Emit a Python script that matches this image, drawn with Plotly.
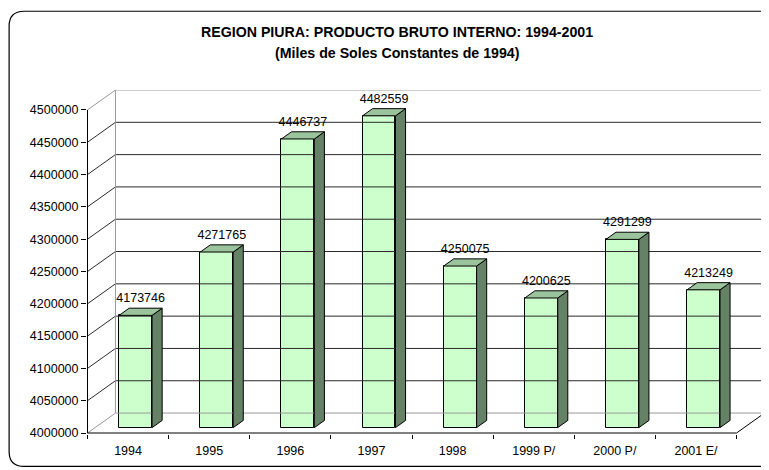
import plotly.graph_objects as go

# ---------------- data ----------------
years = ['1994', '1995', '1996', '1997', '1998', '1999 P/', '2000 P/', '2001 E/']
pbi = [4173746, 4271765, 4446737, 4482559, 4250075, 4200625, 4291299, 4213249]
y_ticks = [4000000, 4050000, 4100000, 4150000, 4200000, 4250000,
           4300000, 4350000, 4400000, 4450000, 4500000]
title1 = 'REGION PIURA: PRODUCTO BRUTO INTERNO: 1994-2001'
title2 = '(Miles de Soles Constantes de 1994)'

# ---------------- geometry / style ----------------
OFF = 8                         # page body margin offset
FW, FH = 769 - OFF, 470 - OFF
cat_px = 81.25                  # pixels per category (front)
ymin, ymax = y_ticks[0], y_ticks[-1]
val_px = 324.0 / (ymax - ymin)  # pixels per value unit
depth_dx_px, depth_dy_px = 28.0, 20.0
pad = 0.5
n = len(years)

axis_x = 87 - OFF
axis_y0 = 433.5 - OFF
plot_left = axis_x - pad
plot_right = axis_x + n * cat_px + depth_dx_px + pad
plot_bottom = axis_y0 + 1.0
plot_top = axis_y0 - (ymax - ymin) * val_px - depth_dy_px
pw = plot_right - plot_left
ph = plot_bottom - plot_top

dxu = depth_dx_px / cat_px
dyu = depth_dy_px / val_px
xr0 = -pad / cat_px
xr1 = n + (depth_dx_px + pad) / cat_px
yr0 = ymin - 1.0 / val_px
yr1 = ymax + dyu

f0 = 0.27
fs = 0.36
bw = 33.0 / cat_px
lab_lift = 3.0 / val_px

FRONT = '#CCFFCC'
TOP = '#9CC49C'
SIDE = '#668266'
GRID = '#2a2a2a'
EDGE = '#999999'
FONT = 'Arial, Liberation Sans, sans-serif'

fig = go.Figure()

gx, gy = [], []
for v in y_ticks[1:-1]:
    gx += [0, dxu, n + dxu, None]
    gy += [v, v + dyu, v + dyu, None]
fig.add_trace(go.Scatter(x=gx, y=gy, mode='lines', line=dict(color=GRID, width=1),
                         hoverinfo='skip', showlegend=False))

ex, ey = [], []
for v in (ymin, ymax):
    ex += [0, dxu, n + dxu, None]
    ey += [v, v + dyu, v + dyu, None]
ex += [dxu, dxu, None, n + dxu, n + dxu, None]
ey += [ymin + dyu, ymax + dyu, None, ymin + dyu, ymax + dyu, None]
fig.add_trace(go.Scatter(x=ex, y=ey, mode='lines', line=dict(color=EDGE, width=1),
                         hoverinfo='skip', showlegend=False))

ax, ay = [0, 0, None, 0, n, n + dxu], [ymin, ymax, None, ymin, ymin, ymin + dyu]
fig.add_trace(go.Scatter(x=ax, y=ay, mode='lines', line=dict(color='black', width=1),
                         hoverinfo='skip', showlegend=False))

centers = [i + 0.5 + f0 * dxu for i in range(n)]
bases = [ymin + f0 * dyu] * n
heights = [v - ymin for v in pbi]

sx, sy, tx, ty = [], [], [], []
for c, v in zip(centers, pbi):
    xl, xr = c - bw / 2, c + bw / 2
    b = ymin + f0 * dyu
    t = v + f0 * dyu
    sdx, sdy = fs * dxu, fs * dyu
    sx += [xr, xr, xr + sdx, xr + sdx, xr, None]
    sy += [b, t, t + sdy, b + sdy, b, None]
    tx += [xl, xr, xr + sdx, xl + sdx, xl, None]
    ty += [t, t, t + sdy, t + sdy, t, None]

fig.add_trace(go.Scatter(x=sx, y=sy, mode='lines', fill='toself', fillcolor=SIDE,
                         line=dict(color='black', width=1),
                         hoverinfo='skip', showlegend=False))
fig.add_trace(go.Scatter(x=tx, y=ty, mode='lines', fill='toself', fillcolor=TOP,
                         line=dict(color='black', width=1),
                         hoverinfo='skip', showlegend=False))

fig.add_trace(go.Bar(x=centers, y=heights, base=bases, width=bw,
                     marker=dict(color=FRONT, line=dict(color='black', width=1)),
                     hoverinfo='skip', showlegend=False))

lx = [c + fs * dxu * 0.5 for c in centers]
ly = [v + (f0 + fs) * dyu + lab_lift for v in pbi]
fig.add_trace(go.Scatter(x=lx, y=ly, mode='text', text=[str(v) for v in pbi],
                         textposition='top center',
                         textfont=dict(family=FONT, size=12.5, color='black'),
                         cliponaxis=False, hoverinfo='skip', showlegend=False))


def px2x(p):
    return (p - OFF - plot_left) / pw


def px2y(p):
    return (plot_bottom - (p - OFF)) / ph


# chart-area frame: only the left part is visible in the window
bl, bt, bb, br, r = 8.5, 10.5, 467.0, 769.0, 15.0
path = (f"M {px2x(br)},{px2y(bt)} L {px2x(bl + r)},{px2y(bt)} "
        f"Q {px2x(bl)},{px2y(bt)} {px2x(bl)},{px2y(bt + r)} "
        f"L {px2x(bl)},{px2y(bb - r)} Q {px2x(bl)},{px2y(bb)} {px2x(bl + r)},{px2y(bb)} "
        f"L {px2x(br)},{px2y(bb)}")

fig.update_layout(
    width=FW, height=FH,
    margin=dict(l=plot_left, r=FW - plot_right, t=plot_top, b=FH - plot_bottom, pad=0),
    paper_bgcolor='white', plot_bgcolor='white',
    font=dict(family=FONT, size=12.5, color='black'),
    bargap=0,
    xaxis=dict(range=[xr0, xr1], tickmode='array',
               tickvals=[i + 0.5 for i in range(n)], ticktext=years,
               ticks='', showgrid=False, zeroline=False, showline=False,
               ticklabelstandoff=7,
               tickfont=dict(family=FONT, size=12.5, color='black'),
               minor=dict(tickmode='array', tickvals=list(range(n + 1)), ticks='outside',
                          ticklen=4, tickcolor='black', tickwidth=1, showgrid=False)),
    yaxis=dict(range=[yr0, yr1], tickmode='array', tickvals=y_ticks,
               ticktext=[str(v) for v in y_ticks],
               ticks='outside', ticklen=5, tickcolor='black', tickwidth=1,
               showgrid=False, zeroline=False, showline=False,
               tickfont=dict(family=FONT, size=12.5, color='black')),
    shapes=[dict(type='path', xref='paper', yref='paper', path=path,
                 line=dict(color='black', width=1.2), fillcolor='rgba(0,0,0,0)',
                 layer='below')],
    annotations=[
        dict(text=f'<b>{title1}</b>', xref='paper', yref='paper', x=px2x(397), y=px2y(31),
             xanchor='center', yanchor='middle', showarrow=False,
             font=dict(family=FONT, size=14.2, color='black')),
        dict(text=f'<b>{title2}</b>', xref='paper', yref='paper', x=px2x(397), y=px2y(52),
             xanchor='center', yanchor='middle', showarrow=False,
             font=dict(family=FONT, size=14.2, color='black')),
    ],
)

fig.write_html('out.html')
